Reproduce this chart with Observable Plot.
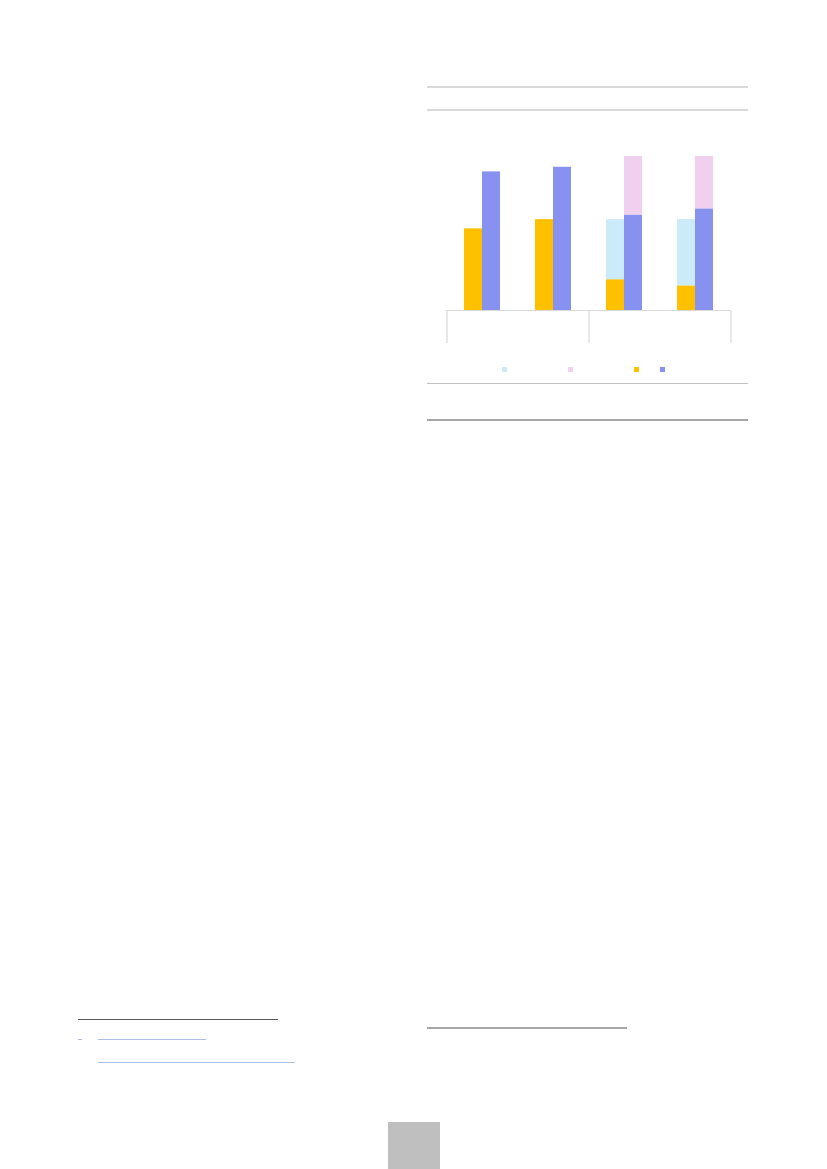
<!DOCTYPE html>
<html>
<head>
<meta charset="utf-8">
<script src="https://cdn.jsdelivr.net/npm/d3@7"></script>
<script src="https://cdn.jsdelivr.net/npm/@observablehq/plot@0.6"></script>
<style>
  html, body { margin: 0; padding: 0; background: #fff; }
  body { width: 827px; height: 1169px; position: relative; overflow: hidden; font-family: "Liberation Sans", Arial, sans-serif; }
  .abs { position: absolute; }
  .rule { position: absolute; height: 1px; }
  #chart { position: absolute; left: 427px; top: 130px; }
  #chart svg { overflow: visible; background: transparent; }
  .sw { position: absolute; width: 5px; height: 5px; top: 367px; }
</style>
</head>
<body>
<!-- page rules around the chart box -->
<div class="rule" style="left:427px; width:321px; top:86px; background:#d9d9d9; height:1.5px"></div>
<div class="rule" style="left:427px; width:321px; top:109px; background:#d9d9d9; height:1.5px"></div>
<div class="rule" style="left:427px; width:321px; top:382.5px; background:#bfbfbf; height:1.5px"></div>
<div class="rule" style="left:427px; width:321px; top:419px; background:#a6a6a6; height:1.5px"></div>

<div id="chart"></div>
<div id="legend"></div>

<!-- footnote area -->
<div class="rule" style="left:78px; width:200px; top:1019px; background:#595959; height:1.3px"></div>
<div class="rule" style="left:78px; width:4px; top:1039px; background:#a9c1e8; height:1.3px"></div>
<div class="rule" style="left:98px; width:108px; top:1039px; background:#a9c1e8; height:1.3px"></div>
<div class="rule" style="left:98px; width:197px; top:1062px; background:#a9c1e8; height:1.3px"></div>
<div class="rule" style="left:427px; width:200px; top:1027px; background:#a6a6a6; height:1.6px"></div>
<!-- page number box -->
<div class="abs" style="left:388px; top:1122px; width:52px; height:47px; background:#bfbfbf"></div>

<script>
// ---- data ----
const categories = ["A1", "A2", "B1", "B2"];
const groups = ["A", "A", "B", "B"];
const seriesNames = ["S1", "S2", "S3", "S4"]; // light blue, pink, yellow, blue (legend order)
const seriesColors = ["#CCEBFA", "#F1CFEE", "#FFC000", "#8791F0"];
// left bar of each category: S3 (bottom) + S1 (stacked on top)
const s3 = [53, 59, 20, 16];
const s1 = [0, 0, 39, 43];
// right bar of each category: S4 (bottom) + S2 (stacked on top)
const s4 = [90, 93, 62, 66];
const s2 = [0, 0, 38, 34];

// ---- tables ----
const leftRows = [];
const rightRows = [];
categories.forEach((c, i) => {
  leftRows.push({cat: c, series: "S3", value: s3[i]});
  leftRows.push({cat: c, series: "S1", value: s1[i]});
  rightRows.push({cat: c, series: "S4", value: s4[i]});
  rightRows.push({cat: c, series: "S2", value: s2[i]});
});
const leftData = leftRows.filter(d => d.value > 0);
const rightData = rightRows.filter(d => d.value > 0);

// group boundaries (first category of each group, and last category overall)
const groupStarts = categories.filter((c, i) => i === 0 || groups[i] !== groups[i - 1]);
const groupEnd = [categories[categories.length - 1]];

// ---- layout ----
const W = 321, H = 220, mL = 19, mR = 18, mT = 26, mB = 40;
const pInner = 0.493, pOuter = 0.2465;
const step = (W - mL - mR) / (categories.length - pInner + 2 * pOuter);
const bw = step * (1 - pInner);
const lineColor = "#d9d9d9";

const plot = Plot.plot({
  width: W,
  height: H,
  marginLeft: mL,
  marginRight: mR,
  marginTop: mT,
  marginBottom: mB,
  x: {type: "band", domain: categories, paddingInner: pInner, paddingOuter: pOuter, axis: null},
  y: {domain: [0, 100], axis: null},
  color: {domain: seriesNames, range: seriesColors},
  marks: [
    Plot.barY(leftData, {x: "cat", y: "value", fill: "series", insetLeft: 0, insetRight: bw / 2}),
    Plot.barY(rightData, {x: "cat", y: "value", fill: "series", insetLeft: bw / 2, insetRight: 0}),
    Plot.ruleY([0], {stroke: lineColor, strokeWidth: 1.2}),
    Plot.ruleX(groupStarts, {x: d => d, y1: 0, y2: 0, insetBottom: -33, dx: -step / 2, stroke: lineColor, strokeWidth: 1.2}),
    Plot.ruleX(groupEnd, {x: d => d, y1: 0, y2: 0, insetBottom: -33, dx: step / 2, stroke: lineColor, strokeWidth: 1.2})
  ]
});
document.getElementById("chart").appendChild(plot);

// ---- legend swatches (labels absent in the reference) ----
const legendLeft = [502, 568, 634, 660];
const legend = document.getElementById("legend");
seriesNames.forEach((s, i) => {
  const d = document.createElement("div");
  d.className = "sw";
  d.style.left = legendLeft[i] + "px";
  d.style.background = seriesColors[i];
  d.title = s;
  legend.appendChild(d);
});
</script>
</body>
</html>
